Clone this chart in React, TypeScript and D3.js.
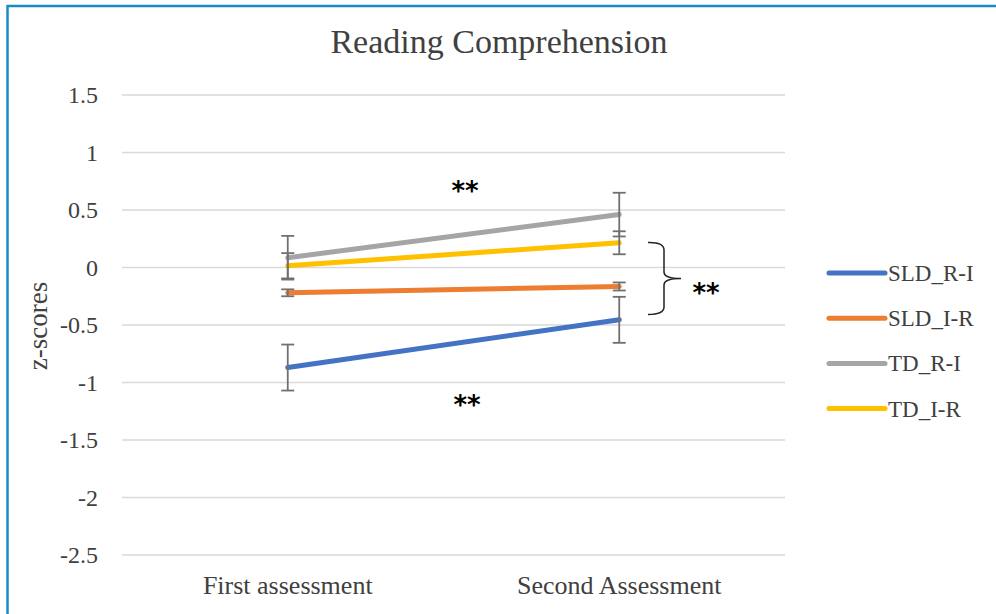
import React from 'react';
import * as d3 from 'd3';

const categories = ['First assessment', 'Second Assessment'];
const seriesNames = ['SLD_R-I', 'SLD_I-R', 'TD_R-I', 'TD_I-R'];
const seriesColors = ['#4472C4', '#ED7D31', '#A5A5A5', '#FFC000'];
const sldRI = [-0.87, -0.455];
const sldIR = [-0.22, -0.165];
const tdRI = [0.085, 0.46];
const tdIR = [0.015, 0.215];
const errSldRI = [0.2, 0.2];
const errSldIR = [0.03, 0.035];
const errTdRI = [0.19, 0.19];
const errTdIR = [0.11, 0.1];
const yTicks = [1.5, 1, 0.5, 0, -0.5, -1, -1.5, -2, -2.5];

const W = 996;
const H = 614;
const font = '"Liberation Serif", "Times New Roman", serif';
const textColor = '#404040';

export default function App() {
  const values = [sldRI, sldIR, tdRI, tdIR];
  const errors = [errSldRI, errSldIR, errTdRI, errTdIR];

  const x = d3.scaleBand().domain(categories).range([122, 785]);
  const y = d3.scaleLinear().domain([-2.5, 1.5]).range([555, 95]);
  const cx = (c: string) => (x(c) as number) + x.bandwidth() / 2;

  const line = d3
    .line<number>()
    .x((_, i) => cx(categories[i]))
    .y((d) => y(d));

  const drawOrder = [0, 1, 2, 3];

  return (
    <svg
      width={W}
      height={H}
      style={{ position: 'absolute', left: 0, top: 0, background: '#fff' }}
    >
      <rect x={0} y={0} width={W} height={H} fill="#fff" />
      <line x1={7} y1={6} x2={W} y2={6} stroke="#1a8ac6" strokeWidth={2.5} />
      <line x1={7.5} y1={5} x2={7.5} y2={H} stroke="#1a8ac6" strokeWidth={2.5} />

      <text
        x={499}
        y={53}
        textAnchor="middle"
        fontFamily={font}
        fontSize={34}
        fill={textColor}
      >
        Reading Comprehension
      </text>

      {yTicks.map((t) => (
        <g key={t}>
          <line x1={122} x2={785} y1={y(t)} y2={y(t)} stroke="#d9d9d9" strokeWidth={1.5} />
          <text
            x={98}
            y={y(t)}
            dy="0.35em"
            textAnchor="end"
            fontFamily={font}
            fontSize={24}
            fill={textColor}
          >
            {t}
          </text>
        </g>
      ))}

      <text
        transform={`translate(47,326) rotate(-90)`}
        textAnchor="middle"
        fontFamily={font}
        fontSize={27}
        fill={textColor}
      >
        z-scores
      </text>

      {categories.map((c) => (
        <text
          key={c}
          x={cx(c)}
          y={594}
          textAnchor="middle"
          fontFamily={font}
          fontSize={26}
          fill={textColor}
        >
          {c}
        </text>
      ))}

      {drawOrder.map((s) => (
        <path
          key={seriesNames[s]}
          d={line(values[s]) || ''}
          fill="none"
          stroke={seriesColors[s]}
          strokeWidth={5}
          strokeLinecap="round"
        />
      ))}

      {drawOrder.map((s) =>
        values[s].map((v, i) => {
          const px = cx(categories[i]);
          const top = y(v + errors[s][i]);
          const bot = y(v - errors[s][i]);
          return (
            <g key={`${s}-${i}`} stroke="#707070" strokeWidth={1.8}>
              <line x1={px} x2={px} y1={top} y2={bot} />
              <line x1={px - 6.5} x2={px + 6.5} y1={top} y2={top} />
              <line x1={px - 6.5} x2={px + 6.5} y1={bot} y2={bot} />
            </g>
          );
        })
      )}

      <path
        d="M648,242.5 Q664,242 664,250 L664,272 Q664,278.5 681,278.5 Q664,278.5 664,285 L664,307 Q664,314.5 648,314.5"
        fill="none"
        stroke="#222"
        strokeWidth={1.5}
      />

      {[
        [465, 200],
        [706, 302],
        [467, 414],
      ].map(([ax, ay], i) => (
        <text
          key={i}
          x={ax}
          y={ay}
          textAnchor="middle"
          fontFamily='"DejaVu Sans", sans-serif'
          fontWeight="bold"
          fontSize={26}
          fill="#000"
        >
          **
        </text>
      ))}

      {seriesNames.map((n, i) => (
        <g key={n} transform={`translate(0,${273 + i * 45.2})`}>
          <line x1={829} x2={885} y1={0} y2={0} stroke={seriesColors[i]} strokeWidth={5} strokeLinecap="round" />
          <text x={888} y={0} dy="0.35em" fontFamily={font} fontSize={23} fill={textColor}>
            {n}
          </text>
        </g>
      ))}
    </svg>
  );
}
